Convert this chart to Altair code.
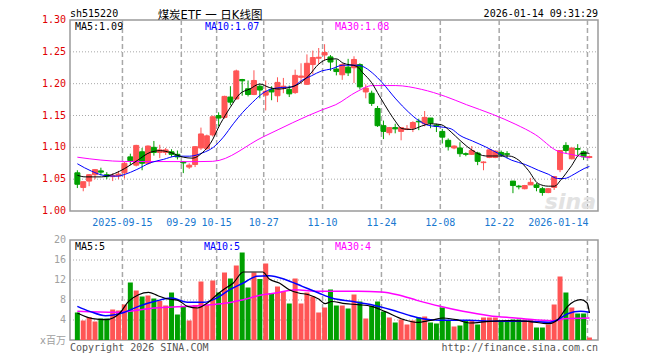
import altair as alt
import pandas as pd

# ---------------- data ----------------
dates = ["09-03","09-04","09-05","09-08","09-09","09-10","09-11","09-12","09-15","09-16",
         "09-17","09-18","09-19","09-22","09-23","09-24","09-25","09-26","09-29","09-30",
         "10-09","10-10","10-13","10-14","10-15","10-16","10-17","10-20","10-21","10-22",
         "10-23","10-24","10-27","10-28","10-29","10-30","10-31","11-03","11-04","11-05",
         "11-06","11-07","11-10","11-11","11-12","11-13","11-14","11-17","11-18","11-19",
         "11-20","11-21","11-24","11-25","11-26","11-27","11-28","12-01","12-02","12-03",
         "12-04","12-05","12-08","12-09","12-10","12-11","12-12","12-15","12-16","12-17",
         "12-18","12-19","12-22","12-23","12-24","12-25","12-26","12-29","12-30","12-31",
         "01-05","01-06","01-07","01-08","01-09","01-12","01-13","01-14"]

opens = [1.060,1.037,1.047,1.057,1.063,1.057,1.054,1.055,1.060,1.085,
         1.072,1.093,1.075,1.100,1.092,1.092,1.093,1.089,1.077,1.069,
         1.073,1.099,1.098,1.1195,1.150,1.147,1.179,1.176,1.2065,1.192,
         1.183,1.196,1.182,1.191,1.181,1.193,1.191,1.186,1.210,1.199,
         1.230,1.240,1.245,1.242,1.223,1.214,1.226,1.225,1.230,1.187,
         1.185,1.161,1.134,1.123,1.131,1.125,1.128,1.130,1.141,1.137,
         1.146,1.135,1.125,1.111,1.099,1.099,1.090,1.089,1.091,1.076,
         1.084,1.084,1.092,1.090,1.047,1.039,1.035,1.041,1.041,1.035,
         1.029,1.037,1.065,1.103,1.082,1.098,1.093,1.084]
highs = [1.064,1.046,1.058,1.066,1.068,1.061,1.059,1.063,1.077,1.090,
         1.104,1.099,1.103,1.110,1.104,1.099,1.097,1.095,1.078,1.075,
         1.102,1.131,1.120,1.150,1.155,1.181,1.196,1.222,1.2075,1.205,
         1.221,1.199,1.205,1.196,1.210,1.209,1.197,1.222,1.232,1.246,
         1.252,1.256,1.262,1.245,1.238,1.232,1.239,1.243,1.232,1.199,
         1.189,1.165,1.142,1.132,1.137,1.132,1.135,1.141,1.145,1.157,
         1.146,1.137,1.129,1.114,1.103,1.108,1.092,1.102,1.093,1.078,
         1.097,1.095,1.095,1.094,1.047,1.041,1.041,1.052,1.044,1.038,
         1.036,1.055,1.095,1.108,1.099,1.105,1.095,1.087]
lows = [1.036,1.031,1.039,1.050,1.056,1.050,1.047,1.050,1.051,1.072,
        1.070,1.064,1.073,1.087,1.083,1.088,1.085,1.081,1.0595,1.066,
        1.069,1.096,1.096,1.117,1.133,1.145,1.166,1.175,1.181,1.180,
        1.182,1.177,1.158,1.174,1.171,1.185,1.179,1.184,1.200,1.198,
        1.215,1.231,1.237,1.220,1.213,1.206,1.212,1.201,1.191,1.177,
        1.165,1.132,1.113,1.119,1.122,1.111,1.127,1.124,1.127,1.133,
        1.130,1.124,1.106,1.095,1.097,1.085,1.086,1.088,1.072,1.064,
        1.083,1.083,1.085,1.083,1.028,1.034,1.034,1.041,1.031,1.024,
        1.028,1.033,1.061,1.091,1.081,1.088,1.080,1.083]
closes = [1.042,1.046,1.057,1.065,1.061,1.054,1.056,1.058,1.075,1.079,
          1.103,1.075,1.102,1.092,1.096,1.096,1.089,1.085,1.0755,1.072,
          1.101,1.121,1.118,1.148,1.146,1.180,1.171,1.220,1.2045,1.183,
          1.205,1.190,1.188,1.187,1.202,1.196,1.184,1.213,1.212,1.232,
          1.241,1.2415,1.249,1.234,1.219,1.230,1.217,1.238,1.195,1.193,
          1.169,1.134,1.125,1.131,1.129,1.131,1.129,1.139,1.140,1.147,
          1.138,1.133,1.116,1.101,1.102,1.090,1.089,1.095,1.078,1.077,
          1.096,1.094,1.088,1.089,1.040,1.038,1.040,1.045,1.037,1.029,
          1.035,1.054,1.095,1.095,1.099,1.097,1.085,1.0855]
volumes = [5.5,3.9,4.6,3.7,4.3,4.3,6.1,5.9,7.1,11.5,
           9.9,8.7,8.9,8.3,7.8,6.9,9.5,5.1,6.6,3.9,
           7.0,11.7,7.0,11.9,9.5,13.5,12.3,14.9,17.5,10.5,
           13.5,12.2,15.3,9.4,10.7,9.7,7.3,12.3,7.3,9.5,
           8.7,5.5,6.5,10.1,6.9,6.9,6.3,9.1,7.7,4.3,
           6.8,7.7,5.7,4.5,3.5,4.1,3.1,3.9,4.5,4.7,
           3.5,3.3,6.5,3.9,2.7,2.9,3.9,3.9,3.1,4.5,
           4.5,4.5,3.7,3.7,4.1,4.1,4.1,4.2,2.5,2.5,
           3.1,7.1,12.7,9.5,6.5,5.3,5.3,0.5]

# moving-average lines (position = candle index)
ma5_idx = [0,1.3,4.1,6.3,8,10.2,12.4,14.1,15.7,18,19.6,21.3,22.6,24.3,26,27.6,29.3,31,32.6,34.3,
           36,37.6,39.3,41,42.6,44,45.1,47.5,48.5,50,51.3,53,54.1,55.1,56.8,58.5,60.1,61.8,63.5,65,
           67.1,69.4,71.6,73.3,75,76.6,78.3,80,81.1,82.1,83.8,85.5,86.6,87]
ma5_val = [1.0562,1.0536,1.0536,1.0588,1.0665,1.0794,1.0922,1.0948,1.0922,1.0845,1.083,1.0922,1.106,1.137,1.163,1.184,1.1916,1.1995,1.194,1.1916,
           1.194,1.1995,1.2125,1.2307,1.2385,1.239,1.2325,1.227,1.217,1.2015,1.181,1.155,1.140,1.1295,1.128,1.1335,1.137,1.1356,1.124,1.111,
           1.0953,1.0864,1.0864,1.0864,1.0797,1.064,1.043,1.039,1.039,1.0484,1.069,1.090,1.091,1.090]
ma10_idx = [0,2.4,4.6,6.8,8,10.1,12.4,14.6,16.8,19.1,21.3,23.1,24.8,26.5,28.1,29.8,31.5,33.1,34.8,36.5,
            38.1,39.8,41.5,43.1,45.1,47.5,48.5,50.1,51.8,54.1,56.3,58,59.6,61.8,63.5,65,67.1,69.4,71.6,73.8,
            76.1,78.3,80,81.6,82.7,84.4,86.1,87]
ma10_val = [1.0742,1.0626,1.0558,1.0547,1.0573,1.0652,1.0757,1.081,1.0861,1.0861,1.0914,1.100,1.116,1.137,1.155,1.171,1.185,1.192,1.194,1.195,
            1.205,1.2125,1.220,1.223,1.229,1.229,1.227,1.217,1.2015,1.176,1.155,1.142,1.1346,1.132,1.129,1.1187,1.110,1.1005,1.090,1.0797,
            1.073,1.064,1.0578,1.051,1.051,1.0578,1.0667,1.070]
ma30_idx = [0,4,8,20,23,31.6,41.6,43.9,47.5,50.1,54.1,58.5,62.5,66.1,70.5,74.5,77.8,81.6,83.8,87]
ma30_val = [1.0845,1.080,1.0778,1.0775,1.078,1.1166,1.159,1.167,1.1875,1.197,1.197,1.191,1.180,1.167,1.152,1.136,1.120,1.094,1.089,1.0836]

vma5_idx = [0,2.6,4.8,7.1,8.7,10.4,12.1,13.7,15.4,17.1,18.7,20.4,22.1,23.7,24.8,26.5,28.2,31.5,32.6,34.3,
            36,37.6,39.3,41,42.1,43.2,45.5,47.7,50,52.2,55.5,57.7,60,62.2,64.4,66.6,70,73.3,76.6,80,
            81.6,83.3,85.5,86.6,87]
vma5_val = [5.4,4.26,4.06,5.26,7.73,9.06,9.53,8.86,8.2,7.93,6.73,6.4,7.4,9.06,10.06,11.4,13.6,13.6,12.2,11.4,
            10.06,9.4,9.06,8.2,7.26,7.7,7.26,7.06,6.73,5.73,4.06,3.53,3.93,4.4,4.06,3.4,3.73,3.86,3.73,3.26,
            4.06,6.73,8.06,7.4,5.4]
vma10_idx = [0,2.1,4.8,7.6,10.4,13.2,16,18.7,21.5,23.7,25.9,28.2,30.4,32.6,35.4,38.2,41,43.2,46.6,50,
             53.3,56.6,60,63.3,66.6,70,73.3,76.6,80,81.6,83.3,85.5,87]
vma10_val = [6.73,5.73,4.86,5.4,6.73,7.73,8.4,7.53,7.53,8.4,10.06,11.4,12.73,12.86,12.06,10.73,9.4,8.4,7.73,7.06,
             6.06,4.86,4.06,3.93,3.93,3.73,3.73,3.73,3.53,4.06,5.26,5.73,5.53]
vma30_idx = [0,6.5,13.2,18.7,22.6,25.4,28.2,31.5,33.7,37.1,40.4,43.2,47.7,51.6,54.4,57.7,61.6,65.5,70,74.4,
             77.7,81.1,82.7,87]
vma30_val = [5.73,5.53,6.4,6.73,7.06,7.4,8.06,9.06,9.4,10.06,9.73,9.73,9.73,9.6,9.06,7.93,6.73,5.73,4.86,4.4,
             4.06,3.86,4.26,4.4]

price_ticks = [1.00, 1.05, 1.10, 1.15, 1.20, 1.25, 1.30]
price_labels = ["1.00", "1.05", "1.10", "1.15", "1.20", "1.25", "1.30"]
vol_ticks = [4, 8, 12, 16, 20]
vol_labels = ["4", "8", "12", "16", "20"]
date_tick_idx = [8, 18, 24, 32, 42, 52, 62, 72]
date_tick_labels = ["2025-09-15", "09-29", "10-15", "10-27", "11-10", "11-24", "12-08", "12-22"]
last_tick_idx = [87]
last_tick_label = ["2026-01-14"]

# ---------------- styling ----------------
RED = "#FF5555"
GREEN = "#00A000"
GRID = "#A8A8A8"
FRAME = "#9A9A9A"
MONO = "DejaVu Sans Mono"
TITLE_FONT = "DejaVu Sans, Noto Sans CJK SC"
W, H, PH = 528, 320, 191

df = pd.DataFrame({"i": list(range(len(dates))), "date": dates, "open": opens,
                   "high": highs, "low": lows, "close": closes, "vol": volumes})

xs = alt.Scale(domain=[-0.4, 87.6], range=[0, W], nice=False, zero=False)
yp = alt.Scale(domain=[1.0, 1.3], range=[PH, 0], nice=False, zero=False)
yv = alt.Scale(domain=[0, 20], range=[H, 220], nice=False, zero=True)

X = alt.X("i:Q", scale=xs, axis=None)
updown = alt.condition("datum.close >= datum.open", alt.value(RED), alt.value(GREEN))

layers = []

# frames
frame_df = pd.DataFrame({"k": [0]})
layers.append(alt.Chart(frame_df).mark_rect(fillOpacity=0, stroke=FRAME, strokeWidth=1.5).encode(
    x=alt.value(0), x2=alt.value(W), y=alt.value(0), y2=alt.value(PH)))
layers.append(alt.Chart(frame_df).mark_rect(fillOpacity=0, stroke=FRAME, strokeWidth=1.5).encode(
    x=alt.value(0), x2=alt.value(W), y=alt.value(220), y2=alt.value(H)))

# horizontal grids
pg = pd.DataFrame({"v": price_ticks[1:-1]})
layers.append(alt.Chart(pg).mark_rule(color=GRID, strokeDash=[1, 2], strokeWidth=1).encode(
    y=alt.Y("v:Q", scale=yp, axis=None), x=alt.value(0), x2=alt.value(W)))
vg = pd.DataFrame({"v": vol_ticks[:-1]})
layers.append(alt.Chart(vg).mark_rule(color=GRID, strokeDash=[1, 2], strokeWidth=1).encode(
    y=alt.Y("v:Q", scale=yv, axis=None), x=alt.value(0), x2=alt.value(W)))

# vertical grids
vt = pd.DataFrame({"i": date_tick_idx + last_tick_idx})
for y0, y1 in [(0, PH), (220, H)]:
    layers.append(alt.Chart(vt).mark_rule(color=GRID, strokeDash=[5, 3], strokeWidth=1.5, xOffset=-2).encode(
        x=X, y=alt.value(y0), y2=alt.value(y1)))

# watermark
layers.append(alt.Chart(frame_df).mark_text(text="sina", font="DejaVu Sans", fontSize=22, fontStyle="italic",
                                            fontWeight="bold", color="#E2E2E2", align="right").encode(
    x=alt.value(W - 2), y=alt.value(182)))

# candles
base = alt.Chart(df)
layers.append(base.mark_rule(strokeWidth=1).encode(
    x=X, y=alt.Y("low:Q", scale=yp, axis=None), y2="high:Q", color=updown))
layers.append(base.mark_bar(size=5, strokeWidth=1).encode(
    x=X, y=alt.Y("open:Q", scale=yp, axis=None), y2="close:Q", color=updown, stroke=updown))

# volume bars
layers.append(base.mark_bar(size=5).encode(
    x=X, y=alt.Y("vol:Q", scale=yv, axis=None), color=updown))

# moving averages
def line(idx, val, color, scale, width=1):
    d = pd.DataFrame({"i": idx, "v": val})
    return alt.Chart(d).mark_line(color=color, strokeWidth=width, interpolate="monotone").encode(
        x=X, y=alt.Y("v:Q", scale=scale, axis=None))

layers.append(line(ma30_idx, ma30_val, "#FF00FF", yp))
layers.append(line(ma10_idx, ma10_val, "#0000FF", yp))
layers.append(line(ma5_idx, ma5_val, "#000000", yp))
layers.append(line(vma30_idx, vma30_val, "#FF00FF", yv, 1.5))
layers.append(line(vma10_idx, vma10_val, "#0000FF", yv, 1.5))
layers.append(line(vma5_idx, vma5_val, "#000000", yv, 1.2))

# axis labels
pl = pd.DataFrame({"v": price_ticks, "t": price_labels})
layers.append(alt.Chart(pl).mark_text(font=MONO, fontSize=10, color="#E00000", align="right",
                                      baseline="middle", dx=-4).encode(
    y=alt.Y("v:Q", scale=yp, axis=None), x=alt.value(0), text="t:N"))
vl = pd.DataFrame({"v": vol_ticks, "t": vol_labels})
layers.append(alt.Chart(vl).mark_text(font=MONO, fontSize=10, color="#A0A0A0", align="right",
                                      baseline="middle", dx=-4).encode(
    y=alt.Y("v:Q", scale=yv, axis=None), x=alt.value(0), text="t:N"))
dl = pd.DataFrame({"i": date_tick_idx, "t": date_tick_labels})
layers.append(alt.Chart(dl).mark_text(font=MONO, fontSize=10, color="#1878D0", align="center",
                                      baseline="alphabetic", dx=-2).encode(
    x=X, y=alt.value(206), text="t:N"))
ll = pd.DataFrame({"i": last_tick_idx, "t": last_tick_label})
layers.append(alt.Chart(ll).mark_text(font=MONO, fontSize=10, color="#1878D0", align="right",
                                      baseline="alphabetic", dx=-1).encode(
    x=X, y=alt.value(206), text="t:N"))

# texts
def txt(s, x, y, color="#000000", size=10, align="left", font=MONO):
    return alt.Chart(pd.DataFrame({"t": [s]})).mark_text(
        font=font, fontSize=size, color=color, align=align, baseline="alphabetic").encode(
        x=alt.value(x), y=alt.value(y), text="t:N")

layers += [
    txt("sh515220", 0, -3),
    txt("煤炭ETF 一 日K线图", 140, -1, size=11.5, align="center", font=TITLE_FONT),
    txt("2026-01-14 09:31:29", W, -3, align="right"),
    txt("MA5:1.09", 5, 10),
    txt("MA10:1.07", 135, 10, color="#0000FF"),
    txt("MA30:1.08", 265, 10, color="#FF00FF"),
    txt("MA5:5", 5, 230),
    txt("MA10:5", 134, 230, color="#0000FF"),
    txt("MA30:4", 265, 230, color="#FF00FF"),
    txt("x百万", -4, 324, color="#A0A0A0", align="right", font=TITLE_FONT),
    txt("Copyright 2026 SINA.COM", 0, 331, color="#555555"),
    txt("http://finance.sina.com.cn", W, 331, color="#555555", align="right"),
]

chart = alt.layer(*layers).resolve_scale(y="independent").properties(
    width=W, height=H,
    padding={"left": 62, "top": 12, "right": 50, "bottom": 16},
    autosize=alt.AutoSizeParams(type="none"),
    background="white",
).configure_view(stroke=None)

chart.save("out.html", embed_options={"renderer": "svg", "actions": False})
